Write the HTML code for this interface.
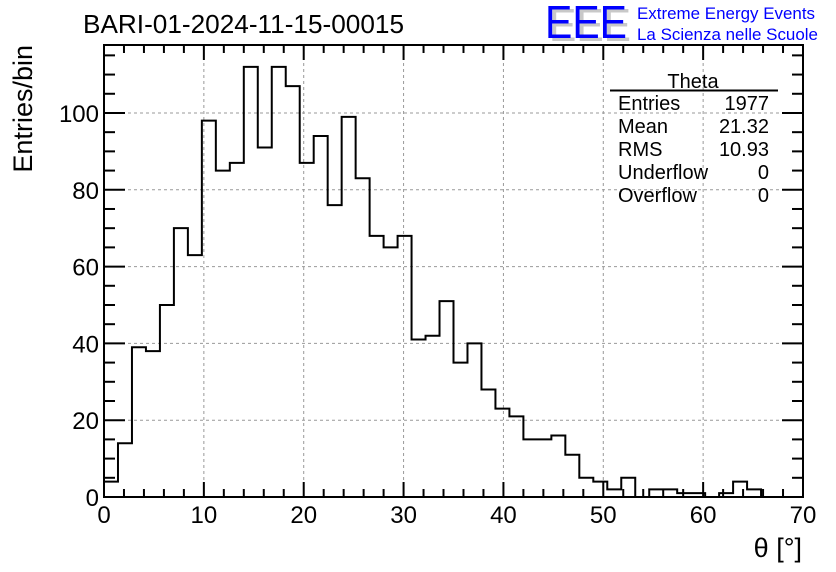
<!DOCTYPE html>
<html><head><meta charset="utf-8"><style>
body{margin:0;background:#fff;}
svg{display:block;font-family:"Liberation Sans",Arial,sans-serif;}
</style></head><body>
<svg id="chart" width="836" height="572" viewBox="0 0 836 572" xmlns="http://www.w3.org/2000/svg">
<rect x="0" y="0" width="836" height="572" fill="#fff"/>
<g id="grid"></g>
<g id="hist"></g>
<g id="axes"></g>
<text x="83" y="33" font-size="26" fill="#000" textLength="321" lengthAdjust="spacingAndGlyphs">BARI-01-2024-11-15-00015</text>
<g>
<text x="549" y="41" font-size="46" fill="#c8c8c8" textLength="82" lengthAdjust="spacingAndGlyphs">EEE</text>
<text x="545" y="38" font-size="46" fill="#0000ff" textLength="82" lengthAdjust="spacingAndGlyphs">EEE</text>
<text x="637" y="19" font-size="17" fill="#0000ff" textLength="178" lengthAdjust="spacingAndGlyphs">Extreme Energy Events</text>
<text x="637" y="40" font-size="17" fill="#0000ff" textLength="181" lengthAdjust="spacingAndGlyphs">La Scienza nelle Scuole</text>
</g>
<g font-size="20" fill="#000">
<text x="693" y="88" text-anchor="middle">Theta</text>
<line x1="610" y1="90.5" x2="778" y2="90.5" stroke="#000" stroke-width="2"/>
<text x="618" y="110">Entries</text><text x="769" y="110" text-anchor="end">1977</text>
<text x="618" y="133">Mean</text><text x="769" y="133" text-anchor="end">21.32</text>
<text x="618" y="156">RMS</text><text x="769" y="156" text-anchor="end">10.93</text>
<text x="618" y="179">Underflow</text><text x="769" y="179" text-anchor="end">0</text>
<text x="618" y="202">Overflow</text><text x="769" y="202" text-anchor="end">0</text>
</g>
<text transform="translate(32,45) rotate(-90)" font-size="27" text-anchor="end">Entries/bin</text>
<text x="802" y="557" font-size="27" text-anchor="end">θ [°]</text>
</svg>
<script>
const binValues = [4,14,39,38,50,70,63,98,85,87,112,91,112,107,87,94,76,99,83,68,65,68,41,42,51,35,40,28,23,21,15,15,16,11,5,4,2,5,0,2,2,1,1,0,1,4,2,0,0,0];
const binWidth = 1.4;
const xTicks = [0,10,20,30,40,50,60,70];
const yTicks = [0,20,40,60,80,100];
const L=104,R=803,T=45,B=497;
const xMin=0,xMax=70,yMin=0,yMax=117.7;
function X(v){return L+(v-xMin)/(xMax-xMin)*(R-L);}
function Y(v){return B-(v-yMin)/(yMax-yMin)*(B-T);}
const NS="http://www.w3.org/2000/svg";
function mk(tag,attrs,parent){const e=document.createElementNS(NS,tag);for(const k in attrs)e.setAttribute(k,attrs[k]);parent.appendChild(e);return e;}
const grid=document.getElementById('grid'),axes=document.getElementById('axes'),hist=document.getElementById('hist');
xTicks.forEach(t=>{if(t>xMin&&t<xMax){const l=mk('line',{x1:X(t),x2:X(t),y1:T,y2:B,stroke:'#999','stroke-dasharray':'3,3','stroke-width':1},grid);

}});
yTicks.forEach(t=>{if(t>yMin){const l=mk('line',{x1:L,x2:R,y1:Y(t),y2:Y(t),stroke:'#999','stroke-dasharray':'3,3','stroke-width':1},grid);

}});
let d='M'+X(0)+','+Y(0);
binValues.forEach((v,i)=>{const x0=X(i*binWidth),x1=X((i+1)*binWidth);d+=' L'+x0+','+Y(v)+' L'+x1+','+Y(v);});
d+=' L'+X(binValues.length*binWidth)+','+Y(0);
const p=mk('path',{d:d,fill:'none',stroke:'#000','stroke-width':2},hist);


const fr=mk('rect',{x:L,y:T,width:R-L,height:B-T,fill:'none',stroke:'#000','stroke-width':2},axes);


for(let v=0;v<=70;v+=2){const maj=v%10===0;const x=X(v);
mk('line',{x1:x,x2:x,y1:B,y2:B-(maj?15:8),stroke:'#000','stroke-width':2},axes);
mk('line',{x1:x,x2:x,y1:T,y2:T+(maj?15:8),stroke:'#000','stroke-width':2},axes);}
for(let v=0;v<=115;v+=5){const maj=v%20===0;const y=Y(v);
mk('line',{x1:L,x2:L+(maj?21:11),y1:y,y2:y,stroke:'#000','stroke-width':2},axes);
mk('line',{x1:R,x2:R-(maj?21:11),y1:y,y2:y,stroke:'#000','stroke-width':2},axes);}
xTicks.forEach(t=>{const tx=mk('text',{x:X(t),y:B+26,'font-size':24,'text-anchor':'middle'},axes);tx.textContent=t;

});
yTicks.forEach(t=>{const tx=mk('text',{x:L-5,y:Y(t)+9,'font-size':24,'text-anchor':'end'},axes);tx.textContent=t;

});
</script>
</body></html>
